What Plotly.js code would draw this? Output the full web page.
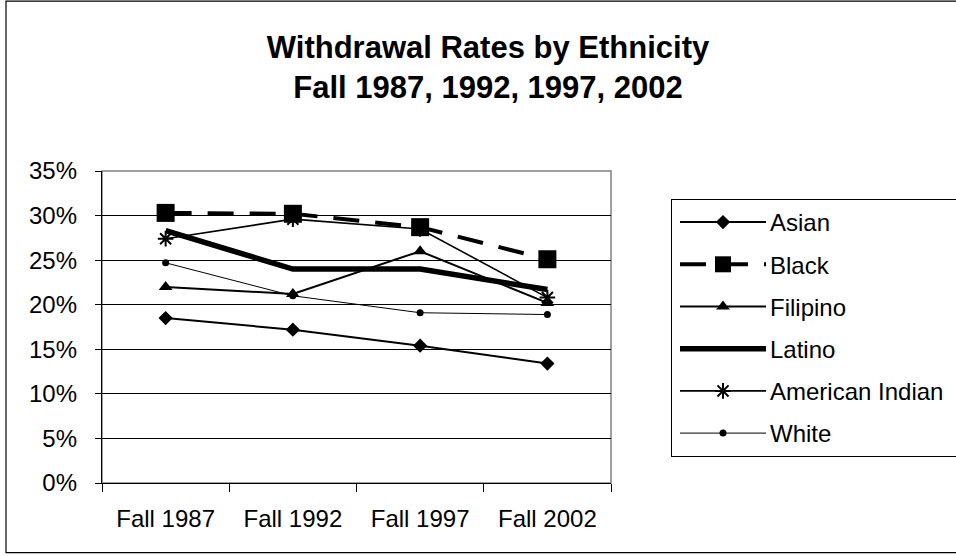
<!DOCTYPE html>
<html>
<head>
<meta charset="utf-8">
<script src="https://cdn.plot.ly/plotly-3.0.1.min.js"></script>
<style>
  html, body { margin: 0; padding: 0; background: #fff; }
  #chart { width: 956px; height: 556px; }
</style>
</head>
<body>
<div id="chart"></div>
<script>
// ---- data ----
const categories = ["Fall 1987", "Fall 1992", "Fall 1997", "Fall 2002"];
const asian = [0.185, 0.172, 0.154, 0.134];
const black = [0.303, 0.302, 0.287, 0.251];
const filipino = [0.220, 0.212, 0.260, 0.202];
const latino = [0.283, 0.240, 0.240, 0.217];
const americanIndian = [0.274, 0.296, 0.285, 0.208];
const white = [0.247, 0.210, 0.191, 0.189];
const seriesNames = ["Asian", "Black", "Filipino", "Latino", "American Indian", "White"];
const yTickVals = [0, 0.05, 0.10, 0.15, 0.20, 0.25, 0.30, 0.35];
const titleLines = ["Withdrawal Rates by Ethnicity", "Fall 1987, 1992, 1997, 2002"];

const FONT = "'Liberation Sans', Arial, sans-serif";

function tr(name, y, line, marker, mode) {
  return {
    type: "scatter", mode: mode || "lines+markers", name: name,
    x: categories, y: y, line: line, marker: marker,
    legendgroup: name, cliponaxis: false, hoverinfo: "skip"
  };
}

const data = [
  tr(seriesNames[0], asian, {color: "#000", width: 2}, {symbol: "diamond", size: 11, color: "#000"}),
  tr(seriesNames[1], black, {color: "#000", width: 4, dash: "26px,16px"}, {symbol: "square", size: 18, color: "#000"}),
  tr(seriesNames[2], filipino, {color: "#000", width: 2}, {symbol: "triangle-up", size: 12, color: "#000"}),
  tr(seriesNames[3], latino, {color: "#000", width: 5.5}, {size: 1}, "lines"),
  tr(seriesNames[4], americanIndian, {color: "#000", width: 1.6}, {symbol: "asterisk-open", size: 13, color: "#000", line: {color: "#000", width: 2}}),
  tr(seriesNames[5], white, {color: "#000", width: 1}, {symbol: "circle", size: 7, color: "#000"})
];

const L = 102, R = 611, T = 171, B = 483.3;
const pw = R - L, ph = B - T;
const px = v => (v - L) / pw;
const py = v => (B - v) / ph;

const layout = {
  width: 956, height: 556,
  margin: {l: L, r: 956 - R, t: T, b: 556 - B, pad: 0},
  paper_bgcolor: "#fff", plot_bgcolor: "#fff",
  font: {family: FONT, color: "#000", size: 24},
  showlegend: true,
  title: {
    text: titleLines.join("<br>"),
    font: {family: FONT, size: 31, color: "#000", weight: "bold"},
    x: 488 / 956, xanchor: "center", xref: "container",
    y: 1 - 58 / 556, yanchor: "middle", yref: "container"
  },
  xaxis: {
    type: "category", range: [-0.5, 3.5], fixedrange: true,
    showline: true, linecolor: "#000", linewidth: 1.2,
    ticks: "outside", tickson: "boundaries", ticklen: 8, tickcolor: "#000", tickwidth: 1,
    showgrid: false, zeroline: false,
    tickfont: {family: FONT, size: 24, color: "#000"},
    ticklabelstandoff: 14
  },
  yaxis: {
    range: [0, 0.35], fixedrange: true,
    tickvals: yTickVals, tickformat: ".0%",
    showline: true, linecolor: "#000", linewidth: 1.2,
    ticks: "outside", ticklen: 6, tickcolor: "#000", tickwidth: 1,
    showgrid: true, gridcolor: "#000", gridwidth: 1, zeroline: false,
    tickfont: {family: FONT, size: 24, color: "#000"},
    ticklabelstandoff: 13
  },
  legend: {
    xref: "container", yref: "container",
    x: 671 / 956, xanchor: "left", y: 1 - 199 / 556, yanchor: "top",
    bordercolor: "#000", borderwidth: 1, bgcolor: "#fff",
    font: {family: FONT, size: 24, color: "#000"},
    itemwidth: 88, tracegroupgap: 8, traceorder: "grouped",
    itemclick: false, itemdoubleclick: false
  },
  shapes: [
    {type: "rect", xref: "paper", yref: "paper", x0: 0, x1: 1, y0: 0, y1: 1,
     line: {color: "#808080", width: 1.5}, layer: "below"},
    {type: "rect", xref: "paper", yref: "paper", x0: px(6), x1: px(990), y0: py(1), y1: py(553),
     line: {color: "#000", width: 1.2}, layer: "below"}
  ]
};

Plotly.newPlot("chart", data, layout, {staticPlot: true, displayModeBar: false}).then(gd => {
  // lengthen the legend line samples to the Excel-like style
  gd.querySelectorAll(".legend .traces").forEach(g => {
    g.querySelectorAll(".legendlines path").forEach(p => p.setAttribute("d", "M8,0h86"));
    g.querySelectorAll(".legendpoints path").forEach(p => p.setAttribute("transform", "translate(51,0)"));
  });
  // legend box runs past the right edge, as in the original
  const bg = gd.querySelector(".legend rect.bg");
  if (bg) bg.setAttribute("width", String(956 - 671 + 20));
});
</script>
</body>
</html>
